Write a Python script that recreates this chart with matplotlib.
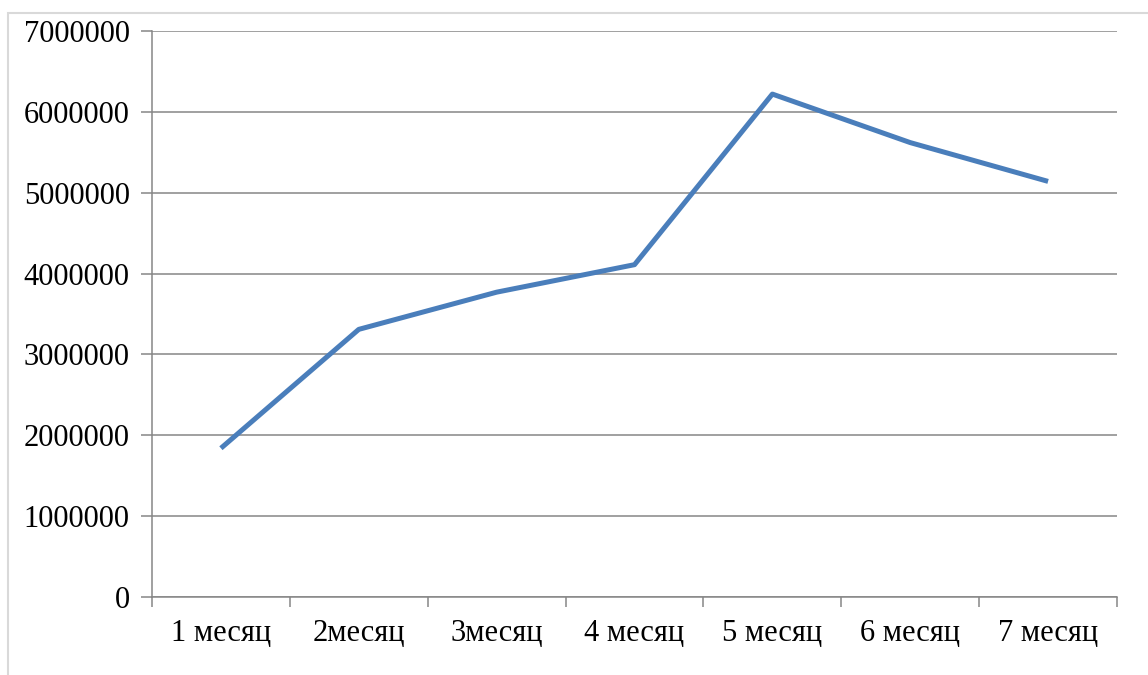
import matplotlib.pyplot as plt
from matplotlib.patches import Rectangle
from matplotlib.ticker import FixedLocator

plt.rcParams['font.family'] = ['Liberation Serif', 'DejaVu Serif']

months = ['1 месяц', '2месяц', '3месяц', '4 месяц', '5 месяц', '6 месяц', '7 месяц']
values = [1840000, 3310000, 3770000, 4110000, 6220000, 5620000, 5140000]
yticks = [0, 1000000, 2000000, 3000000, 4000000, 5000000, 6000000, 7000000]

fig = plt.figure(figsize=(11.48, 6.75), dpi=100)
fig.patches.append(Rectangle((8 / 1148, -0.01), 1.1, 1 - 13 / 675 + 0.01,
                             transform=fig.transFigure, fill=False,
                             edgecolor='#d9d9d9', linewidth=1.5))
ax = fig.add_axes([152 / 1148, 78 / 675, (1117 - 152) / 1148, (597 - 31) / 675])

x = [i + 0.5 for i in range(len(months))]
ax.plot(x, values, color='#4a7ebb', linewidth=3.6, solid_capstyle='butt', zorder=3)

ax.set_xlim(0, len(months))
ax.set_ylim(0, 7000000)
ax.set_yticks(yticks)
ax.set_yticklabels([str(v) for v in yticks])
ax.set_xticks(x)
ax.set_xticklabels(months)
ax.xaxis.set_minor_locator(FixedLocator(range(len(months) + 1)))

ax.grid(axis='y', color='#868686', linewidth=1.1)
ax.set_axisbelow(True)
for s in ['top', 'right']:
    ax.spines[s].set_visible(False)
for s in ['left', 'bottom']:
    ax.spines[s].set_color('#868686')
    ax.spines[s].set_linewidth(1.1)

ax.tick_params(axis='y', length=8, width=1.1, color='#868686', pad=8, labelsize=22)
ax.tick_params(axis='x', which='major', length=0, pad=16, labelsize=22)
ax.tick_params(axis='x', which='minor', length=7, width=1.1, color='#868686')

fig.savefig('out.png', dpi=100)
